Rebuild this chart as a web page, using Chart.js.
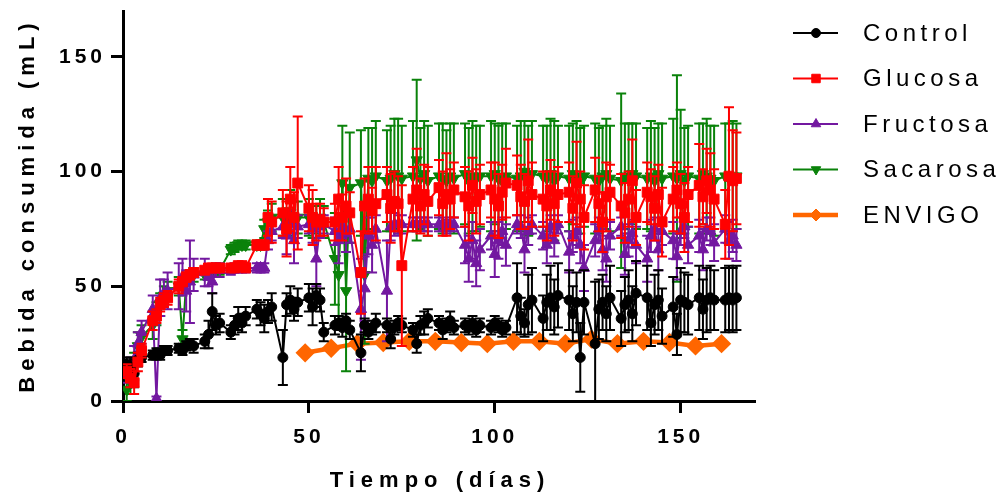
<!DOCTYPE html>
<html>
<head>
<meta charset="utf-8">
<script src="https://cdn.jsdelivr.net/npm/chart.js@4"></script>
<style>
  html, body { margin: 0; padding: 0; background: #fff; }
  #caja { width: 1008px; height: 496px; position: relative; }
</style>
</head>
<body>
<div id="caja"><canvas id="grafico"></canvas></div>
<script>
// Días de medición (lunes a viernes)
const dias = [
  1, 2, 3, 4, 5,
  8, 9, 10, 11, 12,
  15, 16, 17, 18, 19,
  22, 23, 24, 25, 26,
  29, 30, 31, 32, 33,
  36, 37, 38, 39, 40,
  43, 44, 45, 46, 47,
  50, 51, 52, 53, 54,
  57, 58, 59, 60, 61,
  64, 65, 66, 67, 68,
  71, 72, 73, 74, 75,
  78, 79, 80, 81, 82,
  85, 86, 87, 88, 89,
  92, 93, 94, 95, 96,
  99, 100, 101, 102, 103,
  106, 107, 108, 109, 110,
  113, 114, 115, 116, 117,
  120, 121, 122, 123, 124,
  127, 128, 129, 130, 131,
  134, 135, 136, 137, 138,
  141, 142, 143, 144, 145,
  148, 149, 150, 151, 152,
  155, 156, 157, 158, 159,
  162, 163, 164, 165
];

const controlMedia = [
  16, 15, 12, 18, 19,
  20, 21, 20, 22, 22,
  23, 22, 24, 25, 24,
  26, 29, 39, 33, 34,
  30, 33, 36, 34, 37,
  40, 38, 36, 39, 41,
  19, 42, 44, 40, 43,
  45, 41, 46, 44, 30,
  33, 34, 32, 35, 31,
  21, 33, 30, 32, 34,
  33, 27, 32, 34, 33,
  31, 25, 33, 34, 36,
  34, 31, 33, 35, 32,
  33, 32, 34, 31, 33,
  32, 34, 33, 31, 32,
  45, 37, 34, 42, 44,
  36, 43, 45, 41, 46,
  44, 38, 43, 19, 43,
  25, 40, 43, 38, 45,
  36, 42, 44, 38, 47,
  45, 34, 42, 44, 37,
  41, 29, 44, 43, 42,
  45, 40, 44, 45, 44,
  44, 45, 44, 45
];
const controlDE = [
  3, 4, 6, 3, 2,
  2, 2, 2, 2, 2,
  2, 2, 2, 2, 3,
  3, 6, 8, 4, 4,
  3, 4, 5, 4, 4,
  4, 5, 6, 5, 6,
  12, 5, 6, 5, 6,
  6, 8, 5, 5, 4,
  4, 3, 4, 3, 4,
  8, 3, 3, 3, 4,
  3, 4, 3, 3, 3,
  3, 4, 4, 5, 4,
  3, 4, 3, 4, 3,
  3, 3, 3, 3, 3,
  3, 3, 3, 3, 3,
  15, 8, 6, 13, 14,
  10, 12, 14, 12, 14,
  13, 12, 13, 15, 14,
  27, 13, 12, 12, 14,
  12, 12, 13, 12, 14,
  14, 10, 13, 13, 12,
  13, 9, 14, 13, 13,
  14, 13, 14, 14, 13,
  14, 14, 14, 14
];

const glucosaMedia = [
  13, 10, 8, 17, 22,
  35, 37, 42, 44, 45,
  50, 52, 54, 55, 56,
  57, 58, 58, 58, 58,
  58, 58, 59, 59, 58,
  68, 68, 68, 80, 78,
  82, 75, 88, 80, 95,
  84, 80, 78, 79, 78,
  78, 88, 80, 85, 82,
  56, 85, 88, 83, 86,
  90, 84, 87, 86, 59,
  88, 92, 85, 90, 87,
  93, 86, 90, 88, 92,
  89, 85, 94, 87, 90,
  92, 88, 85, 91, 95,
  94, 89, 87, 96, 90,
  88, 85, 92, 86, 90,
  91, 84, 95, 88, 80,
  92, 86, 78, 89, 91,
  85, 82, 88, 96, 80,
  91, 89, 84, 90, 78,
  88, 92, 86, 80, 90,
  94, 89, 96, 92, 88,
  77, 98, 96, 97
];
const glucosaDE = [
  3, 4, 5, 4, 3,
  4, 3, 3, 3, 3,
  3, 2, 2, 2, 2,
  1, 1, 1, 1, 1,
  1, 1, 1, 1, 1,
  2, 2, 2, 8, 9,
  10, 12, 14, 11, 29,
  10, 12, 8, 7, 6,
  8, 14, 10, 12, 9,
  18, 12, 14, 10, 16,
  12, 15, 13, 12, 35,
  14, 18, 12, 13, 15,
  12, 14, 18, 13, 12,
  13, 15, 12, 14, 13,
  12, 16, 14, 12, 15,
  13, 14, 12, 18, 14,
  12, 15, 13, 14, 12,
  13, 14, 18, 12, 14,
  14, 12, 13, 15, 12,
  14, 13, 12, 18, 12,
  13, 12, 14, 13, 15,
  14, 12, 13, 15, 12,
  18, 12, 14, 16, 13,
  15, 30, 22, 20
];

const fructosaMedia = [
  12, 14, 18, 25, 30,
  40, 1, 45, 47, 48,
  50, 54, 48, 52, 55,
  56, 54, 52, 57, 57,
  57, 58, 58, 58, 58,
  58, 58, 58, 70, 74,
  76, 72, 77, 70, 76,
  77, 75, 62, 76, 77,
  74, 70, 76, 73, 75,
  40, 49, 72, 68, 75,
  48, 76, 77, 77, 77,
  77, 77, 77, 77, 77,
  77, 77, 76, 77, 77,
  68, 62, 70, 60, 66,
  72, 64, 70, 74, 68,
  77, 76, 66, 74, 77,
  72, 68, 76, 70, 77,
  65, 72, 74, 68, 58,
  70, 75, 66, 62, 72,
  76, 64, 70, 73, 68,
  62, 72, 75, 66, 74,
  70, 63, 74, 76, 68,
  72, 66, 75, 74, 69,
  75, 70, 72, 68
];
const fructosaDE = [
  4, 5, 6, 5, 5,
  6, 1, 8, 6, 8,
  10, 8, 9, 18, 7,
  6, 4, 5, 3, 3,
  2, 2, 2, 2, 2,
  2, 2, 2, 4, 4,
  5, 8, 6, 10, 5,
  4, 6, 12, 5, 4,
  6, 10, 5, 8, 6,
  22, 14, 8, 12, 6,
  22, 6, 5, 4, 4,
  3, 3, 3, 3, 3,
  3, 3, 3, 3, 3,
  8, 10, 8, 10, 9,
  6, 10, 8, 6, 9,
  4, 5, 10, 6, 4,
  6, 8, 5, 7, 4,
  9, 7, 6, 8, 10,
  7, 5, 9, 10, 6,
  4, 9, 7, 6, 8,
  10, 7, 5, 9, 6,
  8, 10, 6, 5, 8,
  7, 9, 5, 6, 8,
  6, 8, 7, 7
];

const sacarosaMedia = [
  5, 8, 15, 24, 28,
  33, 38, 42, 46, 48,
  50, 27, 52, 54, 55,
  55, 56, 57, 57, 57,
  66, 67, 68, 68, 68,
  68, 68, 75, 78, 80,
  80, 78, 82, 79, 80,
  80, 78, 79, 80, 78,
  62, 55, 95, 48, 93,
  95, 55, 97, 96, 98,
  96, 97, 99, 98, 97,
  98, 105, 97, 99, 96,
  98, 97, 96, 98, 97,
  99, 96, 98, 97, 98,
  98, 99, 97, 96, 98,
  97, 98, 100, 96, 99,
  98, 97, 99, 96, 98,
  97, 99, 98, 96, 98,
  97, 96, 98, 99, 97,
  96, 98, 97, 99, 98,
  97, 98, 96, 99, 97,
  98, 97, 99, 96, 98,
  97, 99, 98, 97, 96,
  98, 97, 98, 98
];
const sacarosaDE = [
  5, 5, 6, 6, 5,
  6, 5, 5, 4, 4,
  4, 4, 4, 3, 3,
  2, 2, 2, 2, 2,
  2, 2, 2, 2, 2,
  2, 2, 4, 5, 6,
  8, 6, 10, 8, 7,
  8, 7, 6, 8, 7,
  20, 18, 25, 35, 24,
  23, 30, 22, 23, 24,
  22, 23, 24, 25, 23,
  24, 35, 22, 23, 24,
  23, 24, 22, 23, 24,
  22, 23, 24, 23, 22,
  24, 22, 23, 25, 23,
  23, 24, 22, 24, 23,
  22, 23, 24, 26, 22,
  23, 22, 24, 23, 22,
  24, 23, 22, 24, 23,
  38, 23, 24, 22, 23,
  22, 24, 23, 22, 24,
  25, 45, 28, 23, 22,
  24, 22, 25, 23, 24,
  23, 24, 24, 23
];

const envigoDias = [49, 56, 63, 70, 77, 84, 91, 98, 105, 112, 119, 126, 133, 140, 147, 154, 161];
const envigoMedia = [21, 23, 25, 25.5, 26, 26, 25.5, 25, 26, 26, 25, 27, 25, 26, 25.5, 24, 25];

const ticksX = [0, 50, 100, 150];
const ticksY = [0, 50, 100, 150];

const fuente = '"Liberation Sans", Arial, sans-serif';

function puntos(xs, ys) {
  return xs.map((x, i) => ({ x: x, y: ys[i] }));
}

// Barras de error (media ± DE), dibujadas bajo cada serie
const barrasError = {
  id: 'barrasError',
  beforeDatasetDraw(chart, args) {
    const ds = chart.data.datasets[args.index];
    if (!ds.errores) return;
    const escalaY = chart.scales.y;
    const area = chart.chartArea;
    const ctx = chart.ctx;
    ctx.save();
    ctx.beginPath();
    ctx.rect(area.left, 0, area.right - area.left, area.bottom);
    ctx.clip();
    ctx.strokeStyle = ds.borderColor;
    ctx.lineWidth = 2;
    args.meta.data.forEach((pt, i) => {
      const v = ds.data[i].y;
      const e = ds.errores[i];
      const arriba = escalaY.getPixelForValue(v + e);
      const abajo = escalaY.getPixelForValue(v - e);
      ctx.beginPath();
      ctx.moveTo(pt.x, arriba);
      ctx.lineTo(pt.x, abajo);
      ctx.moveTo(pt.x - 5, arriba);
      ctx.lineTo(pt.x + 5, arriba);
      ctx.moveTo(pt.x - 5, abajo);
      ctx.lineTo(pt.x + 5, abajo);
      ctx.stroke();
    });
    ctx.restore();
  }
};

// Espaciado de letras, títulos de ejes y leyenda
const textos = {
  id: 'textos',
  beforeDraw(chart) {
    chart.ctx.letterSpacing = '4px';
  },
  afterDraw(chart) {
    const ctx = chart.ctx;
    ctx.save();
    ctx.fillStyle = '#000';
    ctx.letterSpacing = '6px';
    ctx.font = 'bold 22px ' + fuente;
    ctx.textAlign = 'center';
    ctx.textBaseline = 'middle';
    ctx.fillText('Tiempo (días)', 440, 481);
    ctx.save();
    ctx.translate(28, 208);
    ctx.rotate(-Math.PI / 2);
    ctx.fillText('Bebida consumida (mL)', 3, 0);
    ctx.restore();

    // Leyenda
    ctx.letterSpacing = '4.5px';
    ctx.font = '24px ' + fuente;
    ctx.textAlign = 'left';
    chart.data.datasets.forEach((ds, i) => {
      const yy = 33 + i * 45.5;
      ctx.strokeStyle = ds.borderColor;
      ctx.lineWidth = ds.borderWidth;
      ctx.beginPath();
      ctx.moveTo(793, yy);
      ctx.lineTo(838, yy);
      ctx.stroke();
      ctx.fillStyle = ds.pointBackgroundColor;
      ctx.strokeStyle = ds.borderColor;
      ctx.lineWidth = 1;
      Chart.helpers.drawPoint(ctx, {
        pointStyle: ds.pointStyle,
        rotation: ds.pointRotation || 0,
        radius: ds.radioLeyenda,
        borderWidth: 1
      }, 816, yy);
      ctx.fillStyle = '#000';
      ctx.fillText(ds.label, 863, yy + 1);
    });
    ctx.restore();
  }
};

function serie(label, color, estilo, radio, radioLeyenda, media, de, extra) {
  return Object.assign({
    label: label,
    data: puntos(dias, media),
    errores: de,
    radioLeyenda: radioLeyenda,
    borderColor: color,
    backgroundColor: color,
    pointBackgroundColor: color,
    pointBorderColor: color,
    pointStyle: estilo,
    pointRadius: radio,
    pointBorderWidth: 1,
    borderWidth: 2,
    tension: 0
  }, extra || {});
}

const datasets = [
  serie('Control', '#000000', 'circle', 5, 4.5, controlMedia, controlDE, { order: 1 }),
  serie('Glucosa', '#FF0000', 'rect', 7, 6, glucosaMedia, glucosaDE, { order: 0 }),
  serie('Fructosa', '#7318A0', 'triangle', 6.5, 5.5, fructosaMedia, fructosaDE, { order: 2 }),
  serie('Sacarosa', '#0A820A', 'triangle', 6.5, 5.5, sacarosaMedia, sacarosaDE, { order: 3, pointRotation: 180 }),
  {
    label: 'ENVIGO',
    data: puntos(envigoDias, envigoMedia),
    radioLeyenda: 6,
    borderColor: '#FF6600',
    backgroundColor: '#FF6600',
    pointBackgroundColor: '#FF6600',
    pointBorderColor: '#FF6600',
    pointStyle: 'rectRot',
    pointRadius: 6.5,
    borderWidth: 4.5,
    tension: 0,
    order: 4
  }
];

new Chart(document.getElementById('grafico'), {
  type: 'line',
  data: { datasets: datasets },
  plugins: [barrasError, textos],
  options: {
    responsive: true,
    maintainAspectRatio: false,
    animation: false,
    layout: { padding: { left: 0, top: 8, right: 253, bottom: 0 } },
    plugins: {
      legend: { display: false },
      tooltip: { enabled: false }
    },
    scales: {
      x: {
        type: 'linear',
        min: 0,
        max: 170,
        afterBuildTicks(s) { s.ticks = ticksX.map(v => ({ value: v })); },
        afterFit(s) { s.height = 95; s.paddingLeft = 0; s.paddingRight = 0; },
        border: { display: true, color: '#000', width: 3 },
        grid: { drawOnChartArea: false, drawTicks: true, tickLength: 12, tickWidth: 3, tickColor: '#000' },
        ticks: {
          color: '#000',
          padding: 12,
          maxRotation: 0,
          font: { family: fuente, size: 21, weight: 'bold' }
        }
      },
      y: {
        type: 'linear',
        min: 0,
        max: 170,
        afterBuildTicks(s) { s.ticks = ticksY.map(v => ({ value: v })); },
        afterFit(s) { s.width = 123; s.paddingTop = 0; s.paddingBottom = 0; },
        border: { display: true, color: '#000', width: 3 },
        grid: { drawOnChartArea: false, drawTicks: true, tickLength: 12, tickWidth: 3, tickColor: '#000' },
        ticks: {
          color: '#000',
          padding: 5,
          font: { family: fuente, size: 21, weight: 'bold' }
        }
      }
    }
  }
});
</script>
</body>
</html>
